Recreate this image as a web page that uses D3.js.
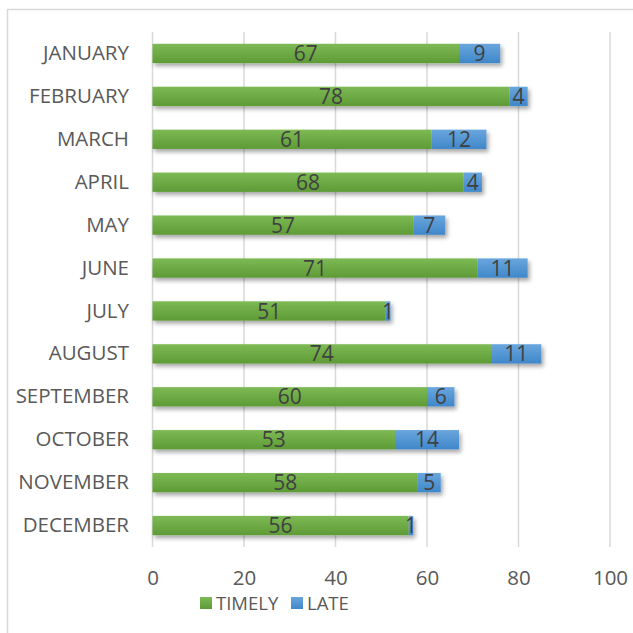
<!DOCTYPE html>
<html>
<head>
<style>
html, body { margin:0; padding:0; background:#fff; }
svg { display:block; font-family:"Open Sans", "Noto Sans", sans-serif; }
</style>
</head>
<body>
<div id="stage"></div>
<script src="https://cdn.jsdelivr.net/npm/d3@7"></script>
<script>
var months = ["JANUARY","FEBRUARY","MARCH","APRIL","MAY","JUNE","JULY","AUGUST","SEPTEMBER","OCTOBER","NOVEMBER","DECEMBER"];
var timely = [67,78,61,68,57,71,51,74,60,53,58,56];
var late   = [9,4,12,4,7,11,1,11,6,14,5,1];
var ticks  = [0,20,40,60,80,100];
var seriesNames = ["TIMELY","LATE"];

var W = 633, H = 633;
var svg = d3.select("#stage").append("svg").attr("width", W).attr("height", H);

var defs = svg.append("defs");
function grad(id, top, bot){
    var g = defs.append("linearGradient").attr("id", id).attr("x1",0).attr("y1",0).attr("x2",0).attr("y2",1);
    g.append("stop").attr("offset","0%").attr("stop-color", top);
    g.append("stop").attr("offset","100%").attr("stop-color", bot);
}
grad("gGreen", "#7dba55", "#5e9b36");
grad("gBlue", "#6aa6dd", "#3f87c9");
var f = defs.append("filter").attr("id","shadow").attr("x","-5%").attr("y","-30%").attr("width","115%").attr("height","190%");
f.append("feDropShadow").attr("dx",2).attr("dy",3).attr("stdDeviation",2).attr("flood-color","#000").attr("flood-opacity",0.35);

// chart border
svg.append("rect").attr("x",7.5).attr("y",9.5).attr("width",640).attr("height",640)
    .attr("fill","none").attr("stroke","#d9d9d9").attr("stroke-width",1.5);

var x = d3.scaleLinear().domain([0,100]).range([152.5, 610]);
var y = d3.scaleBand().domain(months).range([32, 547]).paddingInner(0.55).paddingOuter(0.275);

// gridlines
svg.append("g").selectAll("line").data(ticks).enter().append("line")
    .attr("x1", function(d){ return x(d); }).attr("x2", function(d){ return x(d); })
    .attr("y1", 32).attr("y2", 547)
    .attr("stroke","#d9d9d9").attr("stroke-width",1.5);

// axis labels
var xAxis = d3.axisBottom(x).tickValues(ticks).tickSize(0).tickPadding(0);
var ax = svg.append("g").attr("transform","translate(0,570)").call(xAxis);
ax.select(".domain").remove();
ax.selectAll("text").attr("font-size",20.5).attr("fill","#595959").attr("font-family","\"Open Sans\", sans-serif");

var yAxis = d3.axisLeft(y).tickSize(0).tickPadding(0);
var ay = svg.append("g").attr("transform","translate(129,0)").call(yAxis);
ay.select(".domain").remove();
ay.selectAll("text").attr("font-size",20.5).attr("fill","#595959").attr("font-family","\"Open Sans\", sans-serif");

var rows = months.map(function(m,i){ return {m:m, t:timely[i], l:late[i]}; });

var bars = svg.append("g").selectAll("g").data(rows).enter().append("g").attr("filter","url(#shadow)");
bars.append("rect")
    .attr("x", x(0)).attr("y", function(d){ return y(d.m); })
    .attr("width", function(d){ return x(d.t) - x(0); })
    .attr("height", y.bandwidth())
    .attr("fill","url(#gGreen)");
bars.append("rect")
    .attr("x", function(d){ return x(d.t); }).attr("y", function(d){ return y(d.m); })
    .attr("width", function(d){ return x(d.t + d.l) - x(d.t); })
    .attr("height", y.bandwidth())
    .attr("fill","url(#gBlue)");

var labels = svg.append("g").attr("font-size",21).attr("fill","#404040").attr("text-anchor","middle");
labels.selectAll(".lt").data(rows).enter().append("text")
    .attr("x", function(d){ return (x(0) + x(d.t)) / 2; })
    .attr("y", function(d){ return y(d.m) + y.bandwidth()/2; })
    .attr("dy","0.36em")
    .text(function(d){ return d.t; });
labels.selectAll(".ll").data(rows).enter().append("text")
    .attr("x", function(d){ return (x(d.t) + x(d.t + d.l)) / 2; })
    .attr("y", function(d){ return y(d.m) + y.bandwidth()/2; })
    .attr("dy","0.36em")
    .text(function(d){ return d.l; });

// legend
var lg = svg.append("g").attr("font-size",18.5).attr("fill","#595959");
var legendX = [200, 291];
var fills = ["url(#gGreen)","url(#gBlue)"];
seriesNames.forEach(function(n,i){
    lg.append("rect").attr("x", legendX[i]).attr("y",597).attr("width",12).attr("height",12).attr("fill",fills[i]);
    lg.append("text").attr("x", legendX[i] + 16).attr("y",610).text(n);
});
</script>
</body>
</html>
